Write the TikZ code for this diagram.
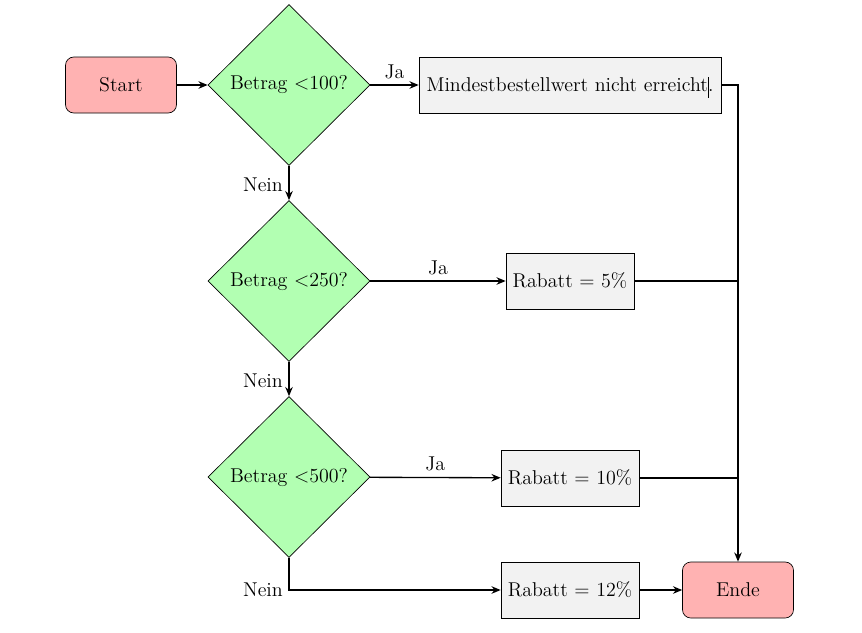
\documentclass[tikz,border=0pt]{standalone}
\usetikzlibrary{shapes.geometric,arrows.meta}
\tikzset{
  every node/.style={font=\fontsize{12}{14.5}\selectfont},
  term/.style={draw, rounded corners=5pt, fill=red!30, minimum width=66.6pt, minimum height=33.6pt, inner sep=2pt},
  dec/.style={draw, diamond, fill=green!30, minimum width=97.2pt, minimum height=96.6pt, inner sep=0pt},
  proc/.style={draw, fill=gray!10, minimum height=33.6pt, inner sep=2pt},
  conn/.style={thick},
  arr/.style={thick, -{Stealth[length=5.5pt,width=4.5pt]}}
}
\begin{document}
\begin{tikzpicture}[x=0.6pt, y=-0.6pt]
\useasboundingbox (0,0) rectangle (862,632);
\node[term] (start) at (121,85) {Start};
\node[dec] (d1) at (289,85) {Betrag <100?};
\node[proc, minimum width=181.2pt] (b1) at (570,85) {Mindestbestellwert nicht erreicht.};
\node[dec] (d2) at (289,281) {Betrag <250?};
\node[proc, minimum width=76.8pt] (b2) at (570,281) {Rabatt = 5\%};
\node[dec] (d3) at (289,477) {Betrag <500?};
\node[proc, minimum width=82.8pt] (b3) at (570,478) {Rabatt = 10\%};
\node[proc, minimum width=82.8pt] (b4) at (570,590) {Rabatt = 12\%};
\node[term] (ende) at (738,590) {Ende};
\coordinate (j1) at (738,85);
\coordinate (j2) at (738,281);
\coordinate (j3) at (738,478);
\coordinate (c3) at (289,590);
\coordinate (m1) at (708,77);
\coordinate (m2) at (708,98);

\draw[arr] (start) -- (d1);
\draw[arr] (d1) -- node[above, pos=0.5] {Ja} (b1);
\draw[arr] (b1.east) -- (j1) -- (ende.north);
\draw[arr] (d1.south) -- node[left, pos=0.55] {Nein} (d2.north);
\draw[arr] (d2) -- node[above] {Ja} (b2);
\draw[conn] (b2.east) -- (j2);
\draw[arr] (d2.south) -- node[left, pos=0.55] {Nein} (d3.north);
\draw[arr] (d3) -- node[above] {Ja} (b3);
\draw[conn] (b3.east) -- (j3);
\draw[arr] (d3.south) -- (c3) node[left] {Nein} -- (b4.west);
\draw[arr] (b4) -- (ende);
\draw[semithick] (m1) -- (m2);
\end{tikzpicture}
\end{document}
